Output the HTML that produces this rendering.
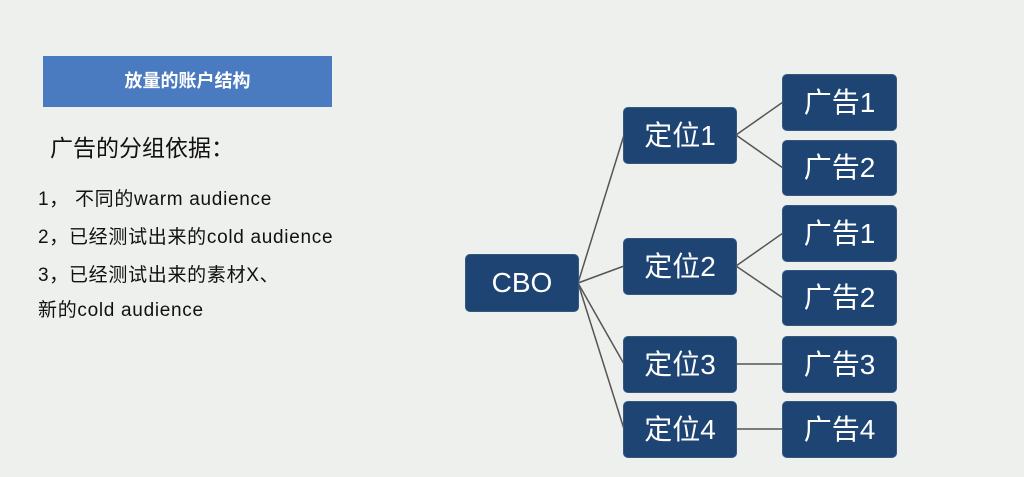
<!DOCTYPE html>
<html><head><meta charset="utf-8"><style>
body{margin:0;width:1024px;height:477px;background:#eef0ed;position:relative;overflow:hidden;font-family:"Liberation Sans","Noto Sans CJK SC",sans-serif;}
.t{position:absolute;left:43px;top:56px;width:289px;height:51px;background:#4a7ac0;color:#fff;font-weight:bold;font-size:18px;text-align:center;line-height:51px;}
.h{position:absolute;left:50px;top:129px;font-size:23px;color:#111;}
.l{position:absolute;left:38px;font-size:19px;color:#111;letter-spacing:0.7px;}
.b{position:absolute;background:#1e4474;color:#fff;border-radius:4px;text-align:center;font-size:28px;box-shadow:0 0 0 1px #35587f;}
svg{position:absolute;left:0;top:0;}
</style></head><body>
<div class="t">放量的账户结构</div>
<div class="h">广告的分组依据：</div>
<div class="l" style="top:184px">1， 不同的warm audience</div>
<div class="l" style="top:222px">2，已经测试出来的cold audience</div>
<div class="l" style="top:260px">3，已经测试出来的素材X、</div>
<div class="l" style="top:295px">新的cold audience</div>
<svg width="1024" height="477"><g stroke="#555" stroke-width="1.5" fill="none">
<line x1="578" y1="283" x2="624" y2="135"/>
<line x1="578" y1="283" x2="624" y2="266"/>
<line x1="578" y1="283" x2="624" y2="364"/>
<line x1="578" y1="283" x2="624" y2="429"/>
<line x1="736" y1="135" x2="783" y2="102"/>
<line x1="736" y1="135" x2="783" y2="168"/>
<line x1="736" y1="266" x2="783" y2="233"/>
<line x1="736" y1="266" x2="783" y2="298"/>
<line x1="736" y1="364" x2="783" y2="364"/>
<line x1="736" y1="429" x2="783" y2="429"/>
</g></svg>
<div class="b" style="left:466px;top:255px;width:112px;height:56px;line-height:56px">CBO</div>
<div class="b" style="left:624px;top:108px;width:112px;height:55px;line-height:55px">定位1</div>
<div class="b" style="left:624px;top:239px;width:112px;height:55px;line-height:55px">定位2</div>
<div class="b" style="left:624px;top:337px;width:112px;height:55px;line-height:55px">定位3</div>
<div class="b" style="left:624px;top:402px;width:112px;height:55px;line-height:55px">定位4</div>
<div class="b" style="left:783px;top:75px;width:113px;height:55px;line-height:55px">广告1</div>
<div class="b" style="left:783px;top:141px;width:113px;height:54px;line-height:54px">广告2</div>
<div class="b" style="left:783px;top:206px;width:113px;height:55px;line-height:55px">广告1</div>
<div class="b" style="left:783px;top:271px;width:113px;height:54px;line-height:54px">广告2</div>
<div class="b" style="left:783px;top:337px;width:113px;height:55px;line-height:55px">广告3</div>
<div class="b" style="left:783px;top:402px;width:113px;height:55px;line-height:55px">广告4</div>
</body></html>
